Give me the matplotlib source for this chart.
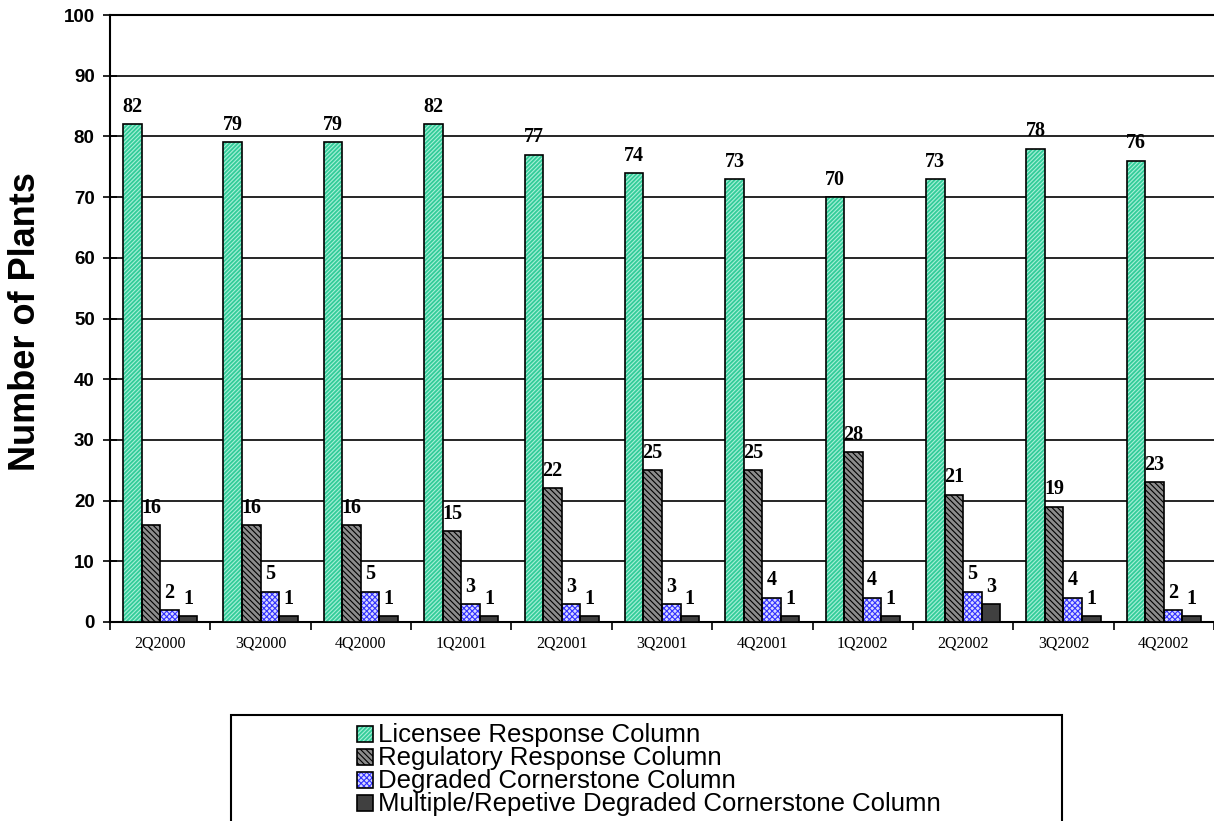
import matplotlib
matplotlib.use("Agg")
import matplotlib.pyplot as plt
import numpy as np
from matplotlib.patches import Rectangle

quarters = ["2Q2000", "3Q2000", "4Q2000", "1Q2001", "2Q2001", "3Q2001",
            "4Q2001", "1Q2002", "2Q2002", "3Q2002", "4Q2002"]
licensee = [82, 79, 79, 82, 77, 74, 73, 70, 73, 78, 76]
regulatory = [16, 16, 16, 15, 22, 25, 25, 28, 21, 19, 23]
degraded = [2, 5, 5, 3, 3, 3, 4, 4, 5, 4, 2]
multiple = [1, 1, 1, 1, 1, 1, 1, 1, 3, 1, 1]
series_names = ["Licensee Response Column", "Regulatory Response Column",
                "Degraded Cornerstone Column",
                "Multiple/Repetive Degraded Cornerstone Column"]

series = [licensee, regulatory, degraded, multiple]
faces = ["#33CC99", "#8C8C8C", "#D8D8FF", "#404040"]
hatch_cols = ["#A8F0D8", "#000000", "#3333FF", "#404040"]
hatches = ["////////", "\\\\\\\\\\\\", "xxxxxx", None]

plt.rcParams['hatch.linewidth'] = 0.8

W, H = 1214, 821
fig = plt.figure(figsize=(W / 100, H / 100), dpi=100)
ax = fig.add_axes([110 / W, 1 - 622 / H, 1 - 110 / W, (622 - 15) / H])

x = np.arange(len(quarters))
w = 0.185
for i, (vals, fc, hc, h) in enumerate(zip(series, faces, hatch_cols, hatches)):
    pos = x + (i - 1.5) * w
    ax.bar(pos, vals, width=w, color=fc, edgecolor=hc, hatch=h, linewidth=0, zorder=3)
    ax.bar(pos, vals, width=w, facecolor='none', edgecolor='black', linewidth=1.2, zorder=4)
    for p, v in zip(pos, vals):
        ax.text(p, v + 1.2, str(v), ha='center', va='bottom', fontsize=14.5,
                fontweight='bold', family='Liberation Serif', zorder=5)

ax.set_xlim(-0.5, len(quarters) - 0.5)
ax.set_ylim(0, 100)
ax.set_yticks(np.arange(0, 101, 10))
ax.yaxis.grid(True, color='black', linewidth=1.2, zorder=0)
ax.set_axisbelow(True)
for lab in ax.get_yticklabels():
    lab.set_fontweight('bold')
    lab.set_family('Liberation Sans')
    lab.set_fontsize(13.5)
ax.tick_params(axis='y', direction='inout', length=10, width=1.2, pad=6)

ax.set_xticks(np.arange(-0.5, len(quarters) - 0.4, 1))
ax.set_xticklabels([])
ax.tick_params(axis='x', which='major', direction='out', length=6, width=1.2)
ax.set_xticks(x, minor=True)
ax.set_xticklabels(quarters, minor=True, fontsize=11.5, family='Liberation Serif')
ax.tick_params(axis='x', which='minor', length=0, pad=10)

ax.spines['right'].set_visible(False)
for s in ['left', 'bottom', 'top']:
    ax.spines[s].set_linewidth(1.5)

fig.text(26 / W, 1 - 322 / H, "Number of Plants", rotation=90, ha='center', va='center',
         fontsize=26, fontweight='bold', family='Liberation Sans')

# legend box (drawn manually in figure pixel coordinates)
fig.patches.append(Rectangle((231 / W, -0.01), (1062 - 231) / W, (H - 715) / H + 0.01,
                             transform=fig.transFigure, facecolor='white',
                             edgecolor='black', linewidth=1.5))
row_centers = [734, 757, 780, 803]
for name, fc, hc, h, yc in zip(series_names, faces, hatch_cols, hatches, row_centers):
    fig.patches.append(Rectangle((357 / W, 1 - (yc + 8) / H), 16 / W, 16 / H,
                                 transform=fig.transFigure, facecolor=fc,
                                 edgecolor=hc, hatch=h, linewidth=0))
    fig.patches.append(Rectangle((357 / W, 1 - (yc + 8) / H), 16 / W, 16 / H,
                                 transform=fig.transFigure, facecolor='none',
                                 edgecolor='black', linewidth=1.2))
    fig.text(378 / W, 1 - (yc + 7.5) / H, name, ha='left', va='baseline',
             fontsize=18.5, family='Liberation Sans')

fig.savefig("out.png", dpi=100)
